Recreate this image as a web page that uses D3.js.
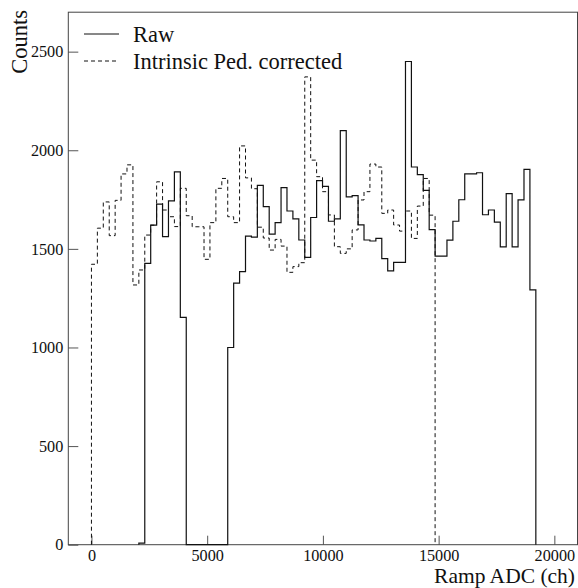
<!DOCTYPE html>
<html>
<head>
<meta charset="utf-8">
<script src="https://cdn.jsdelivr.net/npm/d3@7"></script>
<style>
  body { margin: 0; background: #fff; }
  svg text { font-family: "Liberation Serif", "DejaVu Serif", serif; fill: #111; }
</style>
</head>
<body>
<svg id="chart" width="578" height="588"></svg>
<script>
// Histogram bins are 256 ADC channels wide
let binWidth = 256;

// Raw spectrum, first bin starts at channel 2048
let rawStart = 2048;
let rawCounts = [
  8, 1426, 1620, 1727, 1562, 1743, 1890, 1153,
  0, 0, 0, 0, 0, 0, 0,
  1000, 1326, 1385, 1565, 1560, 1822, 1714, 1575, 1633, 1811,
  1692, 1652, 1545, 1457, 1659, 1846, 1817, 1640, 1652, 2100,
  1764, 1770, 1622, 1545, 1540, 1553, 1451, 1388, 1432, 1432,
  2450, 1915, 1876, 1797, 1598, 1463, 1463, 1544, 1640, 1749,
  1880, 1880, 1886, 1673, 1697, 1636, 1510, 1780, 1510, 1748,
  1903, 1292
];

// Intrinsic pedestal corrected spectrum, first bin starts at channel 0
let pedStart = 0;
let pedCounts = [
  1422, 1605, 1738, 1567, 1746, 1880, 1926, 1317, 1393, 1570,
  1620, 1840, 1697, 1663, 1613, 1807, 1668, 1612, 1612, 1447,
  1633, 1807, 1857, 1663, 1633, 2022, 1860, 1805, 1610, 1555,
  1494, 1548, 1514, 1381, 1410, 1430, 2372, 1950, 1866, 1790,
  1672, 1511, 1477, 1500, 1596, 1748, 1790, 1930, 1915, 1680,
  1697, 1621, 1590, 1692, 1553, 1717, 1857, 1671
];

let xTicks = [0, 5000, 10000, 15000, 20000];
let yTicks = [0, 500, 1000, 1500, 2000, 2500];

let series = [
  { name: 'Raw', start: rawStart, counts: rawCounts, dash: null, width: 1.2 },
  { name: 'Intrinsic Ped. corrected', start: pedStart, counts: pedCounts, dash: '4,3', width: 1 }
];

let svg = d3.select('#chart');

let x = d3.scaleLinear().domain([-1000, 21000]).range([68.3, 577.5]);
let y = d3.scaleLinear().domain([0, 2700]).range([544.7, 12.2]);

// axes, ticks point into the frame
let xAxis = svg.append('g')
  .attr('transform', 'translate(0,' + y(0) + ')')
  .call(d3.axisBottom(x).tickValues(xTicks).tickSize(-9).tickPadding(4.5).tickFormat(d3.format('d')));

let yAxis = svg.append('g')
  .attr('transform', 'translate(' + x.range()[0] + ',0)')
  .call(d3.axisLeft(y).tickValues(yTicks).tickSize(-10).tickPadding(5).tickFormat(d3.format('d')));

[xAxis, yAxis].forEach(function (a) {
  a.select('.domain').remove();
  a.selectAll('.tick line').attr('stroke', '#555').attr('stroke-width', 1);
  a.selectAll('.tick text')
    .attr('font-family', '"Liberation Serif", serif')
    .attr('font-size', 16.2)
    .attr('fill', '#111');
});

// frame
svg.append('rect')
  .attr('x', x.range()[0])
  .attr('y', y.range()[1])
  .attr('width', x.range()[1] - x.range()[0])
  .attr('height', y.range()[0] - y.range()[1])
  .attr('fill', 'none')
  .attr('stroke', '#444')
  .attr('stroke-width', 1);

// step histograms
let line = d3.line()
  .x(function (d) { return x(d[0]); })
  .y(function (d) { return y(d[1]); })
  .curve(d3.curveStepAfter);

series.forEach(function (s) {
  let pts = [[s.start, 0]];
  s.counts.forEach(function (c, i) { pts.push([s.start + i * binWidth, c]); });
  pts.push([s.start + s.counts.length * binWidth, 0]);

  svg.append('path')
    .datum(pts)
    .attr('d', line)
    .attr('fill', 'none')
    .attr('stroke', '#111')
    .attr('stroke-width', s.width)
    .attr('stroke-dasharray', s.dash);
});

// legend
let legend = svg.append('g')
  .selectAll('g')
  .data(series)
  .enter().append('g')
  .attr('transform', function (d, i) { return 'translate(84,' + (34 + i * 27) + ')'; });

legend.append('line')
  .attr('x1', 0)
  .attr('x2', 35)
  .attr('stroke', '#111')
  .attr('stroke-width', 1)
  .attr('stroke-dasharray', function (d) { return d.dash; });

legend.append('text')
  .attr('x', 49)
  .attr('y', 8)
  .attr('font-size', 22.5)
  .text(function (d) { return d.name; });

// axis titles
svg.append('text')
  .attr('x', 575)
  .attr('y', 583)
  .attr('text-anchor', 'end')
  .attr('font-size', 21.5)
  .text('Ramp ADC (ch)');

svg.append('text')
  .attr('transform', 'translate(27,10)rotate(-90)')
  .attr('text-anchor', 'end')
  .attr('font-size', 22.5)
  .text('Counts');
</script>
</body>
</html>
